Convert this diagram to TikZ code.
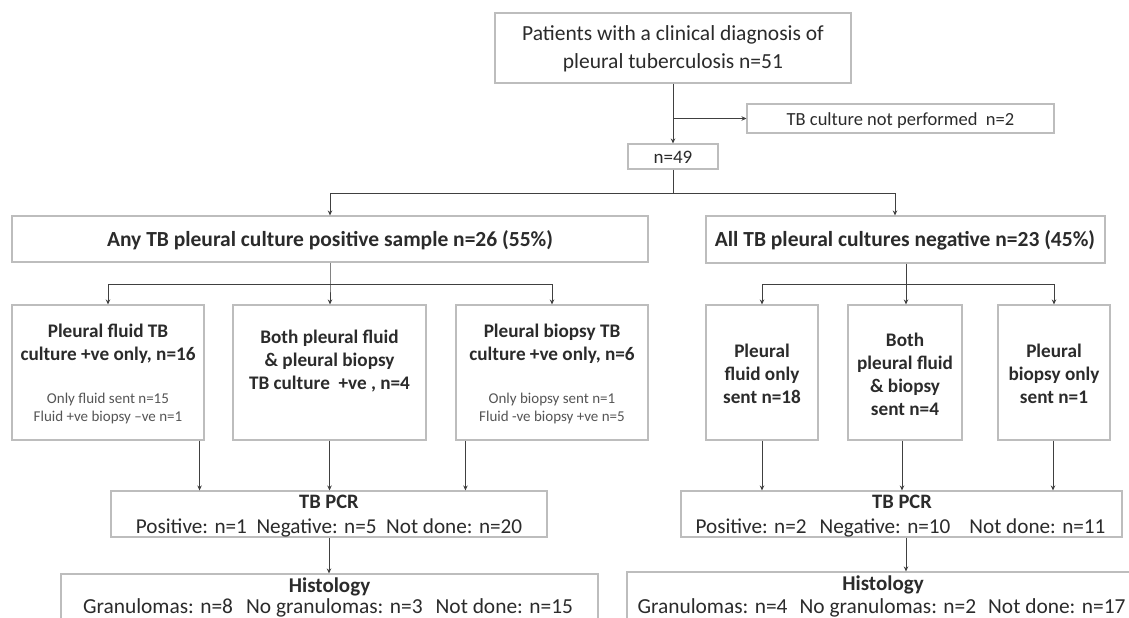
\documentclass[tikz,border=0pt]{standalone}
\usepackage{fontspec}
\setmainfont{Carlito}
\usetikzlibrary{arrows.meta,calc}
\definecolor{boxline}{HTML}{BDBDBD}
\definecolor{conn}{HTML}{404040}
\definecolor{txt}{HTML}{2B2B2B}
\definecolor{smalltxt}{HTML}{555555}
\begin{document}
\begin{tikzpicture}[x=1pt,y=-1pt,
  box/.style={draw=boxline, line width=1.1pt, rectangle, inner sep=0pt},
  t/.style={text=txt, inner sep=0pt, anchor=base},
  big/.style={t, font=\bfseries\fontsize{21.5}{24}\selectfont},
  mid/.style={t, font=\bfseries\fontsize{19.2}{22}\selectfont},
  sml/.style={t, text=smalltxt, font=\fontsize{15}{18}\selectfont},
  reg/.style={t, font=\fontsize{21.2}{23}\selectfont},
  head/.style={t, font=\bfseries\fontsize{20.5}{22}\selectfont},
  arr/.style={draw=conn, line width=0.9pt, -{Stealth[length=5pt,width=4.5pt]}},
  ln/.style={draw=conn, line width=0.9pt}]
\useasboundingbox (0,0) rectangle (1129,618);
\fill[white] (0,0) rectangle (1129,618);
% top
\node[box, minimum width=356pt, minimum height=70pt] (top) at (673,48) {};
\node[t, font=\fontsize{21.5}{24}\selectfont] at (673,41) {Patients with a clinical diagnosis of};
\node[t, font=\fontsize{21.5}{24}\selectfont] at (673,68) {pleural tuberculosis n=51};
\node[box, minimum width=307pt, minimum height=29pt] (side) at (900.5,118.5) {};
\node[t, font=\fontsize{18.5}{20}\selectfont] at (900.5,125) {TB culture not performed\ \ n=2};
\node[box, minimum width=90pt, minimum height=25pt] (n49) at (673,156.5) {};
\node[t, font=\fontsize{19}{20}\selectfont] at (673,163) {n=49};
% big boxes
\node[box, minimum width=636pt, minimum height=46pt] (bigL) at (330,239) {};
\node[big] at (330,246) {Any TB pleural culture positive sample n=26 (55\%)};
\node[box, minimum width=399pt, minimum height=47pt] (bigR) at (905.5,239.5) {};
\node[big] at (905,246) {All TB pleural cultures negative n=23 (45\%)};
% left middle boxes
\node[box, minimum width=192pt, minimum height=135pt] (L1) at (108,372.5) {};
\node[mid] at (108,337) {Pleural fluid TB};
\node[mid] at (108,360) {culture +ve only, n=16};
\node[sml] at (108,403) {Only fluid sent n=15};
\node[sml] at (108,421) {Fluid +ve biopsy --ve n=1};
\node[box, minimum width=193pt, minimum height=135pt] (L2) at (329.5,372.5) {};
\node[mid] at (329.5,343) {Both pleural\ fluid};
\node[mid] at (329.5,366) {\&\ pleural biopsy};
\node[mid] at (329.5,389) {TB culture\ \ +ve , n=4};
\node[box, minimum width=192pt, minimum height=135pt] (L3) at (552,372.5) {};
\node[mid] at (552,337) {Pleural biopsy TB};
\node[mid] at (552,360) {culture +ve only, n=6};
\node[sml] at (552,403) {Only biopsy sent n=1};
\node[sml] at (552,421) {Fluid -ve biopsy +ve n=5};
% right middle boxes
\node[box, minimum width=112pt, minimum height=135pt] (R1) at (762,372.5) {};
\node[mid] at (762,357) {Pleural};
\node[mid] at (762,380) {fluid only};
\node[mid] at (762,403) {sent n=18};
\node[box, minimum width=114pt, minimum height=135pt] (R2) at (905,372.5) {};
\node[mid] at (905,346) {Both};
\node[mid] at (905,369) {pleural\ fluid};
\node[mid] at (905,392) {\& biopsy};
\node[mid] at (905,415) {sent n=4};
\node[box, minimum width=112pt, minimum height=135pt] (R3) at (1054,372.5) {};
\node[mid] at (1054,357) {Pleural};
\node[mid] at (1054,380) {biopsy only};
\node[mid] at (1054,403) {sent n=1};
% PCR
\node[box, minimum width=436pt, minimum height=46pt] (pcrL) at (329,514) {};
\node[head] at (329,508) {TB PCR};
\node[reg] at (329,533) {Positive: n=1\ \ Negative: n=5\ \ Not done: n=20};
\node[box, minimum width=441pt, minimum height=46pt] (pcrR) at (901.5,514) {};
\node[head] at (902,508) {TB PCR};
\node[reg] at (900.5,533) {Positive: n=2\hspace{13pt}Negative: n=10\hspace{19pt}Not done: n=11};
% Histology
\node[box, minimum width=537pt, minimum height=90pt] (histL) at (329.5,619) {};
\node[head, font=\bfseries\fontsize{21}{22}\selectfont] at (329.5,592) {Histology};
\node[reg, font=\fontsize{21.4}{23}\selectfont] at (328,613) {Granulomas: n=8\hspace{13pt}No granulomas: n=3\hspace{13pt}Not done: n=15};
\node[box, minimum width=513pt, minimum height=90pt] (histR) at (883.5,617) {};
\node[head, font=\bfseries\fontsize{21}{22}\selectfont] at (883,590) {Histology};
\node[reg, font=\fontsize{21.4}{23}\selectfont] at (881.5,613) {Granulomas: n=4\hspace{12pt}No granulomas: n=2\hspace{12pt}Not done: n=17};
% connectors
\draw[arr] (top.south) -- (n49.north);
\draw[arr] (top.south |- side.west) -- (side.west);
\coordinate (jA) at (673,193);
\draw[ln] (n49.south) -- (jA);
\draw[arr] (jA) -| (bigL.north);
\draw[arr] (jA) -| ([xshift=-10.5pt]bigR.north);
\coordinate (jB) at (330,284);
\draw[arr] (bigL.south) -- (jB) -- (jB |- L2.north);
\draw[arr] (jB) -| (L1.north);
\draw[arr] (jB) -| (L3.north);
\coordinate (jC) at (906,284);
\draw[arr] ([xshift=0.5pt]bigR.south) -- (jC) -- (jC |- R2.north);
\draw[arr] (jC) -| (R1.north);
\draw[arr] (jC) -| (R3.north);
\draw[arr] ([xshift=-5pt]L1.south east) -- ([xshift=-5pt]L1.south east |- pcrL.north);
\draw[arr] (L2.south) -- (L2.south |- pcrL.north);
\draw[arr] ([xshift=10pt]L3.south west) -- ([xshift=10pt]L3.south west |- pcrL.north);
\draw[arr] (R1.south) -- (R1.south |- pcrR.north);
\draw[arr] ([xshift=-3pt]R2.south) -- ([xshift=-3pt]R2.south |- pcrR.north);
\draw[arr] ([xshift=-1pt]R3.south) -- ([xshift=-1pt]R3.south |- pcrR.north);
\draw[arr] (pcrL.south) -- (pcrL.south |- histL.north);
\draw[arr] ([xshift=4.5pt]pcrR.south) -- ([xshift=4.5pt]pcrR.south |- histR.north);
\end{tikzpicture}
\end{document}
